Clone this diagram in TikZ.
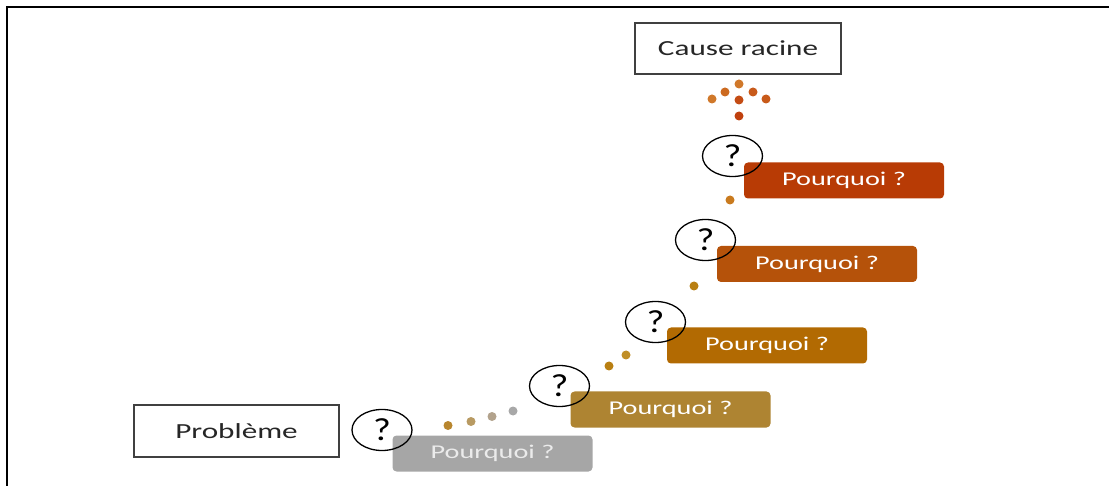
\documentclass[tikz,border=0pt]{standalone}
\usepackage{fontspec}
\setmainfont{Carlito}
\usepackage{graphicx}
\usetikzlibrary{shapes.geometric}

% wide lettering used throughout the figure
\newcommand\widetext[1]{\scalebox{1.45}[1]{#1}}
\newcommand\qtext[1]{\scalebox{1.2}[1]{#1}}

\definecolor{frameline}{HTML}{000000}
\definecolor{boxline}{HTML}{404040}
\definecolor{boxtext}{HTML}{262626}
\definecolor{whyA}{HTML}{A6A6A6}
\definecolor{whyB}{HTML}{AE8432}
\definecolor{whyC}{HTML}{B26A02}
\definecolor{whyD}{HTML}{B5520A}
\definecolor{whyE}{HTML}{B83B05}
% trail dots
\definecolor{dotB}{HTML}{B8862E}
\definecolor{dotC}{HTML}{B89A62}
\definecolor{dotD}{HTML}{B2A28C}
\definecolor{dotE}{HTML}{A8A8A8}
\definecolor{dotF}{HTML}{B97F12}
\definecolor{dotG}{HTML}{C08E26}
\definecolor{dotH}{HTML}{C97A1E}
% root cause cluster
\definecolor{dotI}{HTML}{D0782A}
\definecolor{dotJ}{HTML}{CC6A20}
\definecolor{dotK}{HTML}{C85A1A}
\definecolor{dotL}{HTML}{C44C14}
\definecolor{dotM}{HTML}{C0400E}

\tikzset{
  plainbox/.style={draw=boxline, line width=1.3pt, fill=white, inner sep=0pt,
    text=boxtext, font=\fontsize{21.5}{24}\selectfont},
  whybox/.style={rounded corners=4pt, inner sep=0pt, minimum width=200pt,
    minimum height=36pt, text=white, font=\fontsize{19.5}{22}\selectfont},
  qmark/.style={ellipse, draw=black, line width=1.3pt, inner sep=0pt,
    minimum width=60pt, minimum height=41pt, font=\fontsize{32}{34}\selectfont},
  dotmark/.style={circle, inner sep=0pt, minimum size=9pt}
}

\begin{document}
\begin{tikzpicture}[x=1pt, y=-1pt]
\useasboundingbox (0,0) rectangle (1109,486);

% outer frame (top and left edges)
\draw[frameline, line width=2.2pt] (7,486) -- (7,7) -- (1109,7);

% start and end boxes
\node[plainbox, minimum width=205pt, minimum height=52pt] (probleme) at (236.5,431) {\widetext{Problème}};
\node[plainbox, minimum width=206pt, minimum height=51pt] (cause) at (738,48.5) {\widetext{Cause racine}};

% the five "why" steps
\node[whybox, fill=whyA, text=white!92!black] (why1) at (492.5,453.5) {\widetext{Pourquoi ?}};
\node[whybox, fill=whyB] (why2) at (670.5,409.5) {\widetext{Pourquoi ?}};
\node[whybox, fill=whyC] (why3) at (767,345.5) {\widetext{Pourquoi ?}};
\node[whybox, fill=whyD] (why4) at (817,264) {\widetext{Pourquoi ?}};
\node[whybox, fill=whyE] (why5) at (844,180.5) {\widetext{Pourquoi ?}};

% question marks over each step
\node[qmark] (q1) at (382,430) {\qtext{?}};
\node[qmark] (q2) at (559.5,386) {\qtext{?}};
\node[qmark] (q3) at (655.5,322) {\qtext{?}};
\node[qmark] (q4) at (705.5,240) {\qtext{?}};
\node[qmark] (q5) at (732.5,156) {\qtext{?}};

% dotted trail between the steps
\node[dotmark, fill=dotB] (d1) at (448,425.5) {};
\node[dotmark, fill=dotC] (d2) at (471,421.5) {};
\node[dotmark, fill=dotD] (d3) at (492,416.5) {};
\node[dotmark, fill=dotE] (d4) at (513,411) {};
\node[dotmark, fill=dotF] (d5) at (609,366) {};
\node[dotmark, fill=dotG] (d6) at (626,355) {};
\node[dotmark, fill=dotF] (d7) at (694,286) {};
\node[dotmark, fill=dotH] (d8) at (730,200) {};

% arrow-shaped cluster of dots below the root cause
\node[dotmark, fill=dotI] (a1) at (739,84) {};
\node[dotmark, fill=dotJ] (a2) at (725,92) {};
\node[dotmark, fill=dotK] (a3) at (753,92) {};
\node[dotmark, fill=dotI] (a4) at (712,99) {};
\node[dotmark, fill=dotL] (a5) at (739,100) {};
\node[dotmark, fill=dotK] (a6) at (766,99) {};
\node[dotmark, fill=dotM] (a7) at (739,116) {};
\end{tikzpicture}
\end{document}
